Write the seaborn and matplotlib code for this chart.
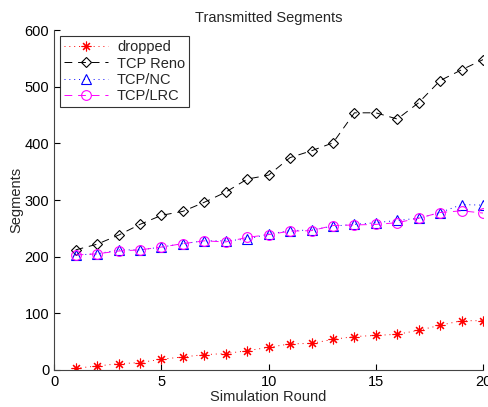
import matplotlib
matplotlib.use("Agg")
import matplotlib.pyplot as plt
import seaborn as sns
import pandas as pd

# values
rounds = list(range(1, 21))
dropped = [3, 7, 11, 13, 19, 23, 27, 29, 34, 40, 46, 47, 54, 59, 61, 63, 70, 79, 87, 87]
tcp_reno = [212, 222, 238, 257, 273, 280, 296, 314, 337, 344, 375, 387, 401, 454, 454, 443, 472, 511, 530, 548]
tcp_nc = [203, 205, 212, 212, 217, 223, 228, 228, 231, 240, 246, 247, 254, 257, 260, 264, 268, 278, 292, 291]
tcp_lrc = [203, 205, 210, 212, 217, 223, 228, 226, 234, 239, 245, 246, 255, 256, 257, 260, 268, 278, 281, 277]

sns.set_style("ticks")
plt.rcParams['font.family'] = ['Liberation Sans', 'DejaVu Sans']
plt.rcParams['xtick.direction'] = 'in'
plt.rcParams['ytick.direction'] = 'in'

fig = plt.figure(figsize=(4.88, 4.07), dpi=100)
ax = fig.add_axes([0.111, 0.091, 0.879, 0.835])

# name, values, colour, dash pattern, marker, marker size
series = [
    ("dropped", dropped, "red", (1, 4), (8, 2, 0), 7),
    ("TCP Reno", tcp_reno, "black", (8, 6), "D", 5.5),
    ("TCP/NC", tcp_nc, "blue", (1, 4), "^", 7),
    ("TCP/LRC", tcp_lrc, "magenta", (8, 6), "o", 7),
]

for name, vals, col, dash, mk, ms in series:
    df = pd.DataFrame({"round": rounds, "value": vals})
    sns.lineplot(data=df, x="round", y="value", ax=ax, color=col,
                 marker=mk, markersize=ms, markerfacecolor="none",
                 markeredgecolor=col, markeredgewidth=0.8, linewidth=0.7,
                 label=name)
    ax.lines[-1].set_dashes(dash)

ax.set_xlim(0, 20)
ax.set_ylim(0, 600)
ax.set_xticks([0, 5, 10, 15, 20])
ax.set_yticks(range(0, 601, 100))
ax.tick_params(labelsize=10.5, length=4, width=0.8, colors="black")
for s in ["top", "right"]:
    ax.spines[s].set_visible(False)
for s in ["left", "bottom"]:
    ax.spines[s].set_linewidth(0.8)
    ax.spines[s].set_color("#444444")

ax.set_title("Transmitted Segments", fontsize=10.5, pad=6)
ax.set_xlabel("Simulation Round", fontsize=10.5, labelpad=1)
ax.set_ylabel("Segments", fontsize=10.5, labelpad=1)

leg = ax.legend(loc="upper left", fontsize=10.5, frameon=True, fancybox=False,
                edgecolor="black", handlelength=3.0, borderpad=0.3,
                labelspacing=0.15, handletextpad=0.6, borderaxespad=0.4)
leg.get_frame().set_linewidth(0.8)

fig.savefig("out.png", dpi=100)
